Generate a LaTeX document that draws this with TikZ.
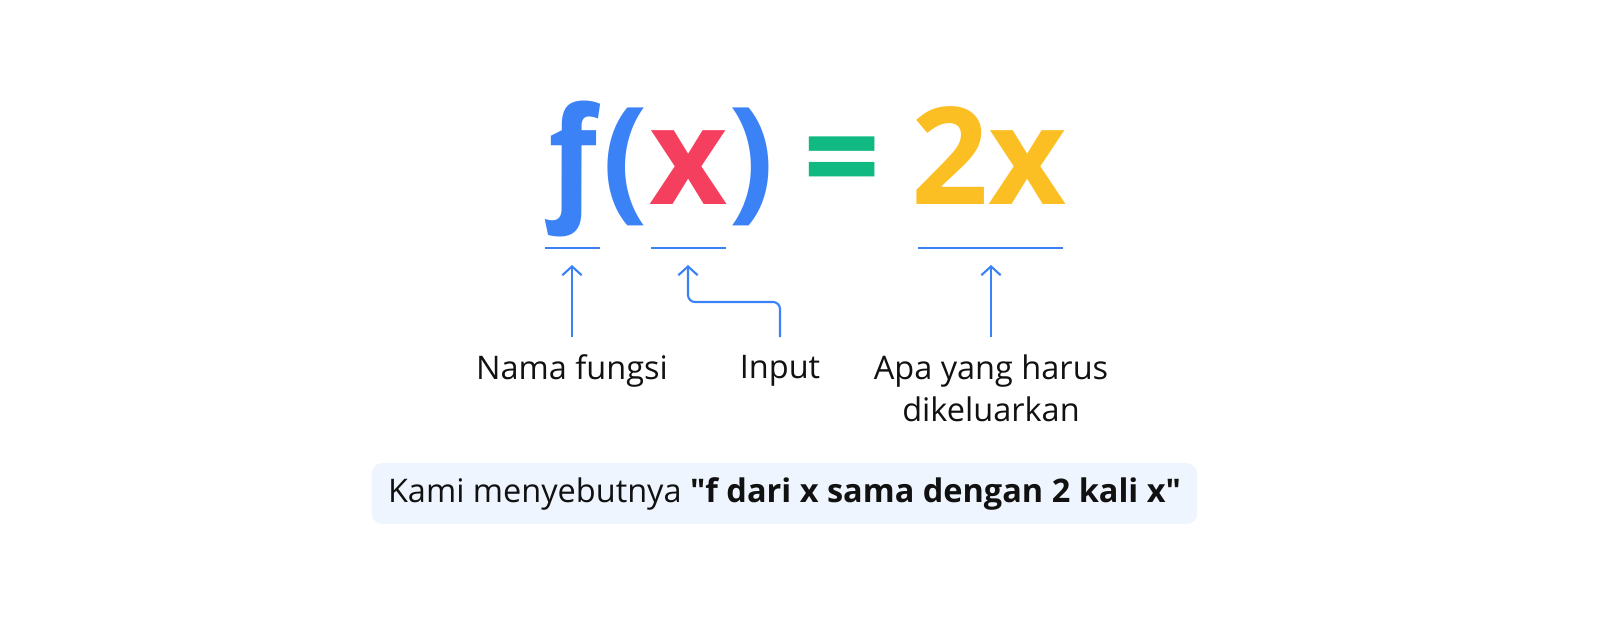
\documentclass[tikz,border=0pt]{standalone}
\usepackage{fontspec}
\setmainfont{Open Sans}[Ligatures=TeXOff]
\newfontfamily\hookfont{Open Sans}[BoldItalicFeatures={FakeSlant=-0.21}]
\usetikzlibrary{positioning,arrows.meta}

\definecolor{fblue}{HTML}{3B82F6}
\definecolor{xred}{HTML}{F43F5E}
\definecolor{eqgreen}{HTML}{10B981}
\definecolor{outyellow}{HTML}{FBBF24}
\definecolor{boxfill}{HTML}{EFF5FE}
\definecolor{textblack}{HTML}{111111}

\tikzset{
  formula/.style={inner sep=0pt, font=\fontsize{77}{80}\selectfont\bfseries},
  uline/.style={fblue, line width=1.2pt},
  pointer/.style={fblue, line width=1.2pt, rounded corners=4pt, -{Straight Barb[length=5pt,width=11pt]}},
  caption/.style={anchor=north, align=center, inner xsep=0pt, inner ysep=10pt, text=textblack, font=\fontsize{18.5}{24}\selectfont},
  callout/.style={fill=boxfill, rounded corners=6pt, minimum width=470pt, minimum height=34.6pt, text=textblack, font=\fontsize{18.5}{23}\selectfont}
}

\begin{document}
\begin{tikzpicture}[x=0.02cm, y=-0.02cm]
\useasboundingbox (0,0) rectangle (1600,642);

% f(x) = 2x
\node[formula, text=fblue, anchor=base west] (fn) at (556,204) {\hookfont\bfseries\itshape f};
\node[formula, text=fblue, base right=-2.8pt of fn] (lp) {(};
\node[formula, text=xred, base right=0pt of lp] (xin) {x};
\node[formula, text=fblue, base right=0pt of xin] (rp) {)};
\node[formula, text=eqgreen, anchor=base] (eq) at (842,204) {=};
\node[formula, text=outyellow, anchor=base] (out) at (989,204) {2x};

% underlines
\draw[uline] (545,248) -- (600,248);
\draw[uline] (651,248) -- (726,248);
\draw[uline] (918,248) -- (1063,248);

\coordinate (ftip) at (572,265);
\coordinate (xtip) at (688,265);
\coordinate (xbend) at (688,302);
\coordinate (otip) at (991,265);

% labels
\node[caption] (nama) at (572,337) {Nama fungsi};
\node[caption] (inp) at (780,337) {Input};
\node[caption] (apa) at (991,337) {Apa yang harus\\dikeluarkan};

\draw[pointer] (nama) -- (ftip);
\draw[pointer] (inp) -- (inp |- xbend) -- (xbend) -- (xtip);
\draw[pointer] (apa) -- (otip);

\node[callout] (say) at (784.5,493.5) {Kami menyebutnya \textbf{"f dari x sama dengan 2 kali x"}};
\end{tikzpicture}
\end{document}
